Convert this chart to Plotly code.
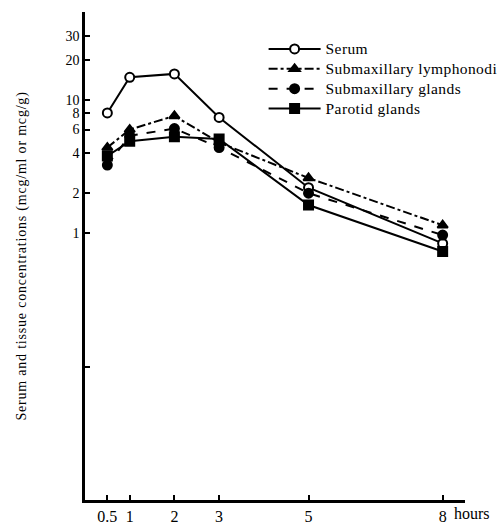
import plotly.graph_objects as go

hours = [0.5, 1, 2, 3, 5, 8]
serum = [8.0, 14.8, 15.7, 7.4, 2.2, 0.84]
lymphonodi = [4.4, 6.0, 7.6, 4.8, 2.6, 1.15]
submax_glands = [3.25, 5.4, 6.1, 4.4, 2.0, 0.97]
parotid = [3.8, 4.9, 5.3, 5.1, 1.63, 0.73]

series_names = ["Serum", "Submaxillary lymphonodi", "Submaxillary glands", "Parotid glands"]

x_tickvals = [0.5, 1, 2, 3, 5, 8]
x_ticktext = ["0.5", "1", "2", "3", "5", "8"]
y_tickvals = [0.1, 1, 2, 4, 6, 8, 10, 20, 30]
y_ticktext = ["", "1", "2", "4", "6", "8", "10", "20", "30"]

FONT = "Liberation Serif"

styles = [
    dict(dash="solid", symbol="circle", color="white"),
    dict(dash="dashdot", symbol="triangle-up", color="black"),
    dict(dash="dash", symbol="circle", color="black"),
    dict(dash="solid", symbol="square", color="black"),
]

fig = go.Figure()
for name, vals, st in zip(series_names, [serum, lymphonodi, submax_glands, parotid], styles):
    fig.add_trace(go.Scatter(
        x=hours, y=vals, mode="lines+markers",
        name="<span style='font-size:15.5px;letter-spacing:0.4px'>" + name + "</span>",
        line=dict(color="black", width=2, dash=st["dash"]),
        marker=dict(symbol=st["symbol"], size=9, color=st["color"],
                    line=dict(color="black", width=2)),
        cliponaxis=False,
    ))

fig.update_layout(
    width=504, height=524,
    margin=dict(l=85, r=39, t=12, b=24, autoexpand=False),
    paper_bgcolor="white", plot_bgcolor="white",
    font=dict(family=FONT, color="black", size=15),
    legend=dict(x=0.47, y=0.955, xanchor="left", yanchor="top",
                font=dict(family=FONT, size=13, color="black"),
                itemwidth=52,
                bgcolor="rgba(0,0,0,0)", tracegroupgap=0),
    showlegend=True,
)
fig.update_xaxes(
    range=[0, 8.5], tickvals=x_tickvals, ticktext=x_ticktext,
    ticks="inside", ticklen=5, tickwidth=2, tickcolor="black",
    showline=True, linecolor="black", linewidth=2.5,
    showgrid=False, zeroline=False, automargin=False,
    tickfont=dict(family=FONT, size=16),
)
fig.update_yaxes(
    type="log", range=[-2, 1.66], tickvals=y_tickvals, ticktext=y_ticktext,
    ticks="inside", ticklen=5, tickwidth=2, tickcolor="black",
    showline=True, linecolor="black", linewidth=2.5,
    showgrid=False, zeroline=False, automargin=False,
    tickfont=dict(family=FONT, size=14),
    title=dict(text="<span style='letter-spacing:0.8px'>Serum and tissue concentrations (mcg/ml or mcg/g)</span>",
               font=dict(family=FONT, size=14), standoff=36),
)
fig.add_annotation(text="hours", x=8.2, xref="x", y=0, yref="paper",
                   xanchor="left", yanchor="top", yshift=-3, showarrow=False,
                   font=dict(family=FONT, size=16, color="black"))

fig.write_html("out.html", config={"displayModeBar": False},
               post_script="document.body.style.margin='0';document.body.style.overflow='hidden';")
